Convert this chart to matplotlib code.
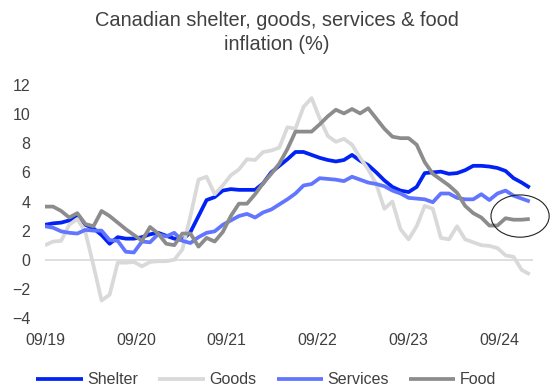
import matplotlib
matplotlib.use("Agg")
import matplotlib.pyplot as plt
from matplotlib.patches import Ellipse
import numpy as np

plt.rcParams['font.family'] = ['Liberation Sans', 'DejaVu Sans']

# monthly y/y inflation (%), Sep 2019 onward
shelter = [2.4, 2.5, 2.55, 2.7, 2.95, 2.4, 2.15, 1.7, 1.1, 1.55,
           1.45, 1.45, 1.55, 1.75, 1.85, 1.65, 1.45, 1.35, 1.9, 3.0,
           4.1, 4.3, 4.75, 4.85, 4.8, 4.8, 4.8, 5.25, 6.0, 6.45,
           6.9, 7.4, 7.4, 7.2, 7.0, 6.85, 6.75, 6.85, 7.2, 6.8,
           6.5, 6.0, 5.45, 5.0, 4.75, 4.65, 5.0, 5.95, 6.0, 6.05,
           5.9, 5.95, 6.15, 6.45, 6.45, 6.4, 6.3, 6.1, 5.6, 5.3,
           4.95]
goods = [1.0, 1.25, 1.3, 2.4, 2.8, 1.9, -0.4, -2.8, -2.4, -0.2,
         -0.2, -0.15, -0.45, -0.15, -0.1, -0.1, 0.0, 0.7, 3.0, 5.5,
         5.7, 4.5, 5.1, 5.8, 6.2, 6.9, 6.85, 7.4, 7.5, 7.7,
         9.1, 9.0, 10.5, 11.1, 9.7, 8.5, 8.1, 8.3, 7.9, 7.0,
         6.2, 5.2, 3.5, 4.0, 2.1, 1.4, 2.3, 3.7, 3.5, 1.5,
         1.4, 2.3, 1.4, 1.2, 1.0, 0.95, 0.8, 0.3, 0.2, -0.7,
         -1.0]
services = [2.3, 2.2, 1.95, 1.85, 1.8, 2.05, 2.0, 2.0, 1.35, 1.3,
            0.55, 0.5, 1.25, 1.2, 1.75, 1.6, 1.85, 1.3, 1.15, 1.55,
            1.85, 1.95, 2.4, 2.7, 3.0, 3.15, 2.9, 3.25, 3.45, 3.8,
            4.15, 4.55, 5.1, 5.2, 5.6, 5.55, 5.5, 5.4, 5.7, 5.5,
            5.3, 5.2, 5.05, 4.75, 4.55, 4.25, 4.2, 4.15, 3.95, 4.55,
            4.55, 4.25, 4.15, 4.15, 4.5, 4.1, 4.55, 4.75, 4.4, 4.2,
            4.0]
food = [3.65, 3.65, 3.35, 2.9, 3.2, 2.45, 2.3, 3.35, 3.0, 2.55,
        2.1, 1.7, 1.3, 2.25, 1.8, 1.1, 1.0, 1.8, 1.8, 0.9,
        1.5, 1.25, 1.9, 3.0, 3.85, 3.85, 4.5, 5.25, 5.9, 6.6,
        7.6, 8.8, 8.8, 8.8, 9.3, 9.85, 10.3, 10.05, 10.35, 10.05,
        10.4, 9.7, 9.0, 8.45, 8.35, 8.35, 7.9, 6.7, 5.9, 5.5,
        5.1, 4.6, 3.7, 3.2, 2.9, 2.35, 2.35, 2.85, 2.75, 2.75,
        2.8]

tick_labels = ["09/19", "09/20", "09/21", "09/22", "09/23", "09/24"]
tick_pos = [0, 11.25, 22.5, 33.75, 45, 56.25]

series = [
    ("Shelter", shelter, "#0022F5"),
    ("Goods", goods, "#D9D9D9"),
    ("Services", services, "#6275FF"),
    ("Food", food, "#8C8C8C"),
]

fig = plt.figure(figsize=(5.5, 3.88), dpi=100)
ax = fig.add_axes([45 / 550, 1 - 318 / 388, 488 / 550, 233 / 388])

x = np.arange(len(shelter))
ax.axhline(0, color="#D9D9D9", lw=1.2, zorder=1)
for k, (name, vals, col) in enumerate(series):
    ax.plot(x, vals, color=col, lw=2.7, label=name, zorder=2 + k,
            solid_joinstyle="round", solid_capstyle="butt")

# circle the latest food readings
ax.add_patch(Ellipse((58.8, 3.0), 7.2, 2.9, fill=False, ec="#222222",
                     lw=0.8, clip_on=False, zorder=10))

ax.set_xlim(0, 60.4)
ax.set_ylim(-4, 12)
ax.set_yticks(range(-4, 13, 2))
ax.set_xticks(tick_pos)
ax.set_xticklabels(tick_labels)
ax.tick_params(axis="both", length=0, labelsize=11.5, colors="#404040")
ax.tick_params(axis="y", pad=10.5)
ax.tick_params(axis="x", pad=10.5)
for s in ax.spines.values():
    s.set_visible(False)

fig.text(0.503, 1 - 20 / 388, "Canadian shelter, goods, services & food",
         ha="center", va="center", fontsize=14.4, color="#404040")
fig.text(0.503, 1 - 45 / 388, "inflation (%)",
         ha="center", va="center", fontsize=14.4, color="#404040")

fig.legend(loc="center", bbox_to_anchor=(0.4845, 1 - 380 / 388), ncol=4,
           frameon=False, fontsize=11.5, handlelength=2.9,
           handletextpad=0.3, columnspacing=1.25, labelcolor="#404040")

fig.savefig("out.png", dpi=100)
